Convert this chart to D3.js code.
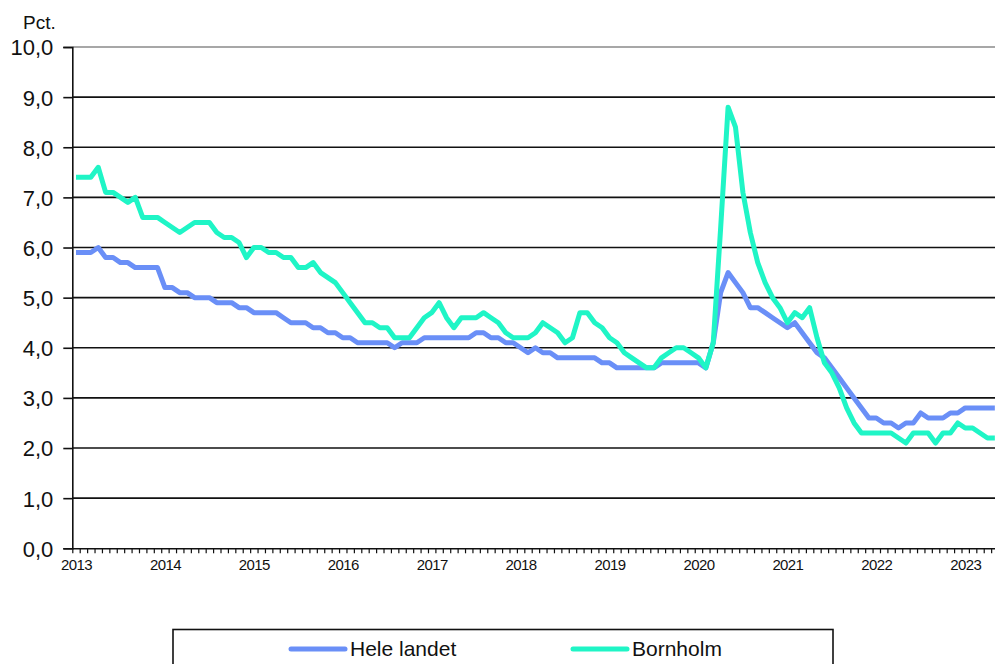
<!DOCTYPE html>
<html>
<head>
<meta charset="utf-8">
<script src="https://cdn.jsdelivr.net/npm/d3@7"></script>
<style>
  body { margin: 0; background: #fff; }
  svg text { font-family: Arial, "Liberation Sans", sans-serif; fill: #111; }
</style>
</head>
<body>
<div id="chart"></div>
<script>
// monthly values, Jan 2013 .. May 2023
const startYear = 2013;
const yearLabels = ["2013", "2014", "2015", "2016", "2017", "2018", "2019", "2020", "2021", "2022", "2023"];
const yTicks = [0, 1, 2, 3, 4, 5, 6, 7, 8, 9, 10];
const seriesNames = ["Hele landet", "Bornholm"];

const heleLandet = [
  5.9, 5.9, 5.9, 6.0, 5.8, 5.8, 5.7, 5.7, 5.6, 5.6, 5.6, 5.6,
  5.2, 5.2, 5.1, 5.1, 5.0, 5.0, 5.0, 4.9, 4.9, 4.9, 4.8, 4.8,
  4.7, 4.7, 4.7, 4.7, 4.6, 4.5, 4.5, 4.5, 4.4, 4.4, 4.3, 4.3,
  4.2, 4.2, 4.1, 4.1, 4.1, 4.1, 4.1, 4.0, 4.1, 4.1, 4.1, 4.2,
  4.2, 4.2, 4.2, 4.2, 4.2, 4.2, 4.3, 4.3, 4.2, 4.2, 4.1, 4.1,
  4.0, 3.9, 4.0, 3.9, 3.9, 3.8, 3.8, 3.8, 3.8, 3.8, 3.8, 3.7,
  3.7, 3.6, 3.6, 3.6, 3.6, 3.6, 3.6, 3.7, 3.7, 3.7, 3.7, 3.7,
  3.7, 3.6, 4.1, 5.1, 5.5, 5.3, 5.1, 4.8, 4.8, 4.7, 4.6, 4.5,
  4.4, 4.5, 4.3, 4.1, 3.9, 3.8, 3.6, 3.4, 3.2, 3.0, 2.8, 2.6,
  2.6, 2.5, 2.5, 2.4, 2.5, 2.5, 2.7, 2.6, 2.6, 2.6, 2.7, 2.7,
  2.8, 2.8, 2.8, 2.8, 2.8
];

const bornholm = [
  7.4, 7.4, 7.4, 7.6, 7.1, 7.1, 7.0, 6.9, 7.0, 6.6, 6.6, 6.6,
  6.5, 6.4, 6.3, 6.4, 6.5, 6.5, 6.5, 6.3, 6.2, 6.2, 6.1, 5.8,
  6.0, 6.0, 5.9, 5.9, 5.8, 5.8, 5.6, 5.6, 5.7, 5.5, 5.4, 5.3,
  5.1, 4.9, 4.7, 4.5, 4.5, 4.4, 4.4, 4.2, 4.2, 4.2, 4.4, 4.6,
  4.7, 4.9, 4.6, 4.4, 4.6, 4.6, 4.6, 4.7, 4.6, 4.5, 4.3, 4.2,
  4.2, 4.2, 4.3, 4.5, 4.4, 4.3, 4.1, 4.2, 4.7, 4.7, 4.5, 4.4,
  4.2, 4.1, 3.9, 3.8, 3.7, 3.6, 3.6, 3.8, 3.9, 4.0, 4.0, 3.9,
  3.8, 3.6, 4.1, 6.4, 8.8, 8.4, 7.1, 6.3, 5.7, 5.3, 5.0, 4.8,
  4.5, 4.7, 4.6, 4.8, 4.2, 3.7, 3.5, 3.2, 2.8, 2.5, 2.3, 2.3,
  2.3, 2.3, 2.3, 2.2, 2.1, 2.3, 2.3, 2.3, 2.1, 2.3, 2.3, 2.5,
  2.4, 2.4, 2.3, 2.2, 2.2
];

const colors = ["#6a8ff7", "#1ff5c6"];

const width = 995, height = 664;
const plotLeft = 72.3, plotTop = 47, plotBottom = 548.3;
const nMonths = heleLandet.length;

const svg = d3.select("#chart")
  .append("svg")
  .attr("width", width)
  .attr("height", height);

// each month is one category slot, points sit in the middle of the slot
const x = d3.scaleLinear()
  .domain([0, nMonths])
  .range([plotLeft, plotLeft + 7.41 * nMonths]);

const y = d3.scaleLinear()
  .domain([0, 10])
  .range([plotBottom, plotTop]);

// gridlines
svg.append("g")
  .selectAll("line")
  .data(yTicks.filter(d => d > 0))
  .join("line")
  .attr("x1", plotLeft)
  .attr("x2", width)
  .attr("y1", d => y(d))
  .attr("y2", d => y(d))
  .attr("stroke", d => d === 10 ? "#8a8a8a" : "#111")
  .attr("stroke-width", 1.6);

// y axis
const yAxis = svg.append("g")
  .attr("transform", `translate(${plotLeft},0)`)
  .call(
    d3.axisLeft(y)
      .tickValues(yTicks)
      .tickSize(9)
      .tickPadding(10)
      .tickFormat(d => d.toFixed(1).replace(".", ","))
  );
yAxis.select(".domain").attr("stroke", "#111").attr("stroke-width", 1.6);
yAxis.selectAll(".tick line").attr("stroke", "#111").attr("stroke-width", 1.6);
yAxis.selectAll(".tick text")
  .style("font-size", "22px")
  .attr("dy", "0.36em")
  .attr("x", -19);

svg.append("text")
  .attr("x", 23)
  .attr("y", 29)
  .style("font-size", "19px")
  .text("Pct.");

// x axis: monthly ticks
const monthIdx = d3.range(0, nMonths + 1);
const xAxis = svg.append("g")
  .attr("transform", `translate(0,${plotBottom})`)
  .call(
    d3.axisBottom(x)
      .tickValues(monthIdx)
      .tickSize(5)
      .tickSizeOuter(0)
      .tickFormat("")
  );
xAxis.select(".domain").attr("stroke", "#111").attr("stroke-width", 1.6);
xAxis.selectAll(".tick line").attr("stroke", "#111").attr("stroke-width", 1.2);

// year labels, centred on the January slot
const yearAxis = svg.append("g")
  .attr("transform", `translate(0,${plotBottom})`)
  .call(
    d3.axisBottom(x)
      .tickValues(yearLabels.map((d, i) => i * 12 + 0.5))
      .tickSize(0)
      .tickPadding(11)
      .tickFormat((d, i) => yearLabels[i])
  );
yearAxis.select(".domain").remove();
yearAxis.selectAll(".tick text")
  .style("font-size", "15px")
  .style("letter-spacing", "-0.6px")
  .attr("dy", "0.71em");

// lines
const line = d3.line()
  .x((d, i) => x(i + 0.5))
  .y(d => y(d));

const clip = svg.append("clipPath").attr("id", "plotclip")
  .append("rect")
  .attr("x", plotLeft)
  .attr("y", 0)
  .attr("width", width - plotLeft)
  .attr("height", plotBottom);

svg.append("g")
  .attr("clip-path", "url(#plotclip)")
  .selectAll("path")
  .data([heleLandet, bornholm])
  .join("path")
  .attr("d", d => line(d))
  .attr("fill", "none")
  .attr("stroke", (d, i) => colors[i])
  .attr("stroke-width", 5)
  .attr("stroke-linejoin", "round");

// legend
const legend = svg.append("g");
legend.append("rect")
  .attr("x", 173)
  .attr("y", 629.5)
  .attr("width", 660)
  .attr("height", 60)
  .attr("fill", "#fff")
  .attr("stroke", "#111")
  .attr("stroke-width", 1.6);

const legendX = [291, 573];
const items = legend.selectAll("g.item")
  .data(seriesNames)
  .join("g")
  .attr("class", "item")
  .attr("transform", (d, i) => `translate(${legendX[i]},649)`);

items.append("line")
  .attr("x1", 0)
  .attr("x2", 54)
  .attr("stroke", (d, i) => colors[i])
  .attr("stroke-width", 5)
  .attr("stroke-linecap", "round");

items.append("text")
  .attr("x", 59)
  .attr("y", 7)
  .style("font-size", "21px")
  .text(d => d);
</script>
</body>
</html>
